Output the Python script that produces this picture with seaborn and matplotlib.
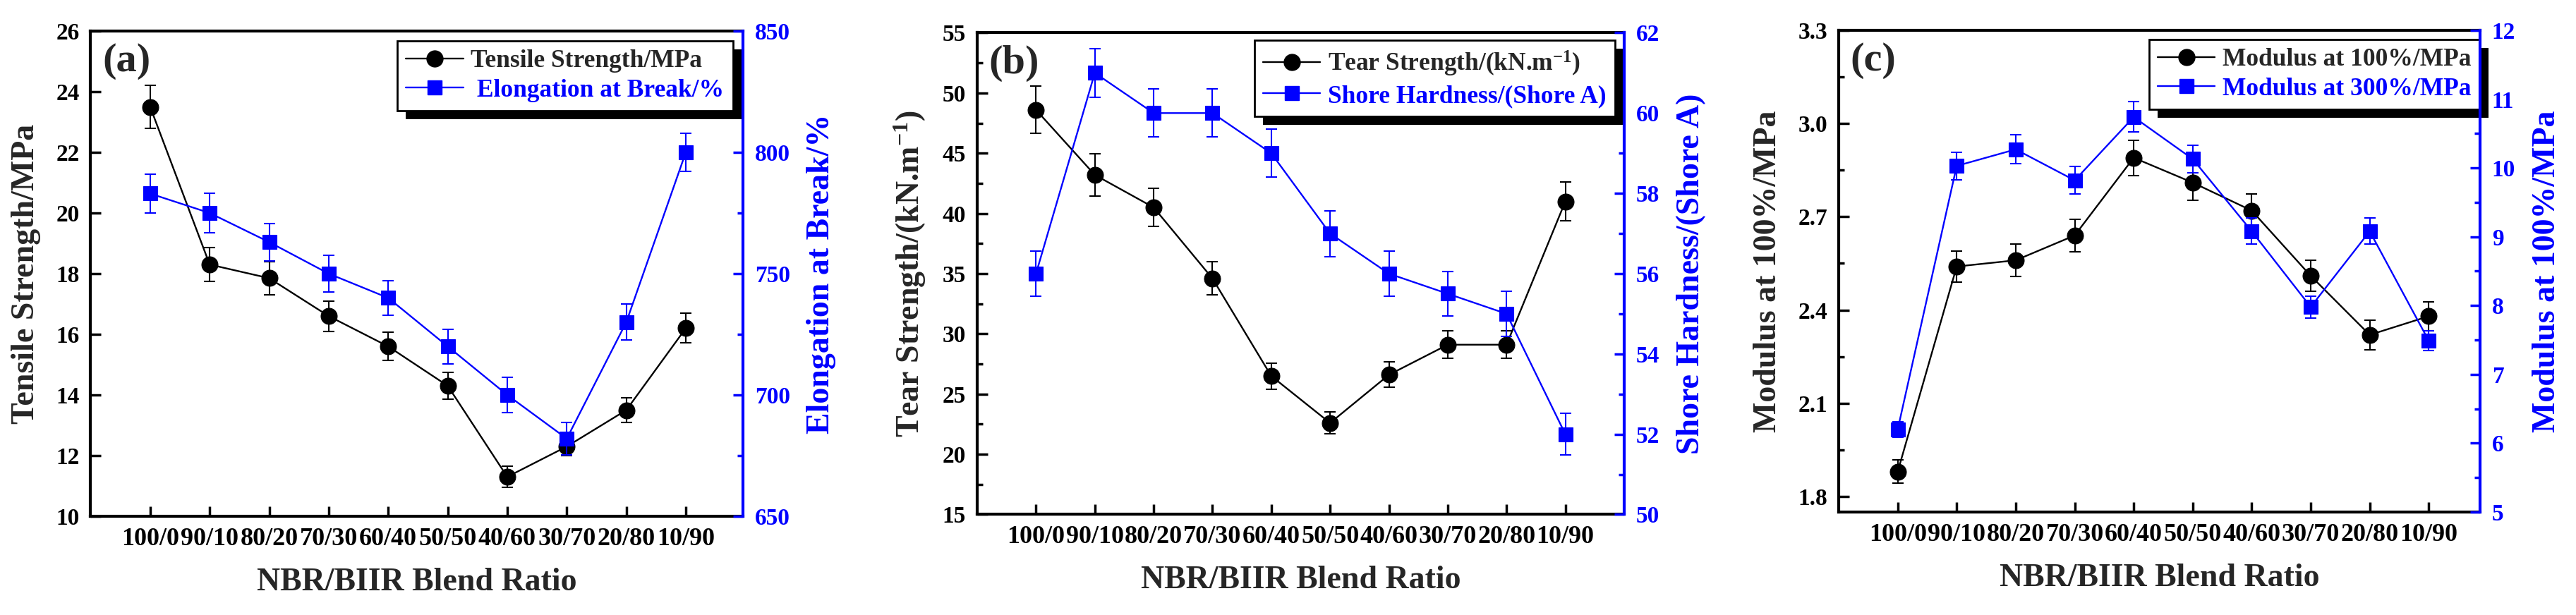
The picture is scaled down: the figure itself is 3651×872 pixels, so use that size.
import numpy as np
import matplotlib
matplotlib.use("Agg")
import matplotlib.pyplot as plt
import matplotlib.ticker as mticker
import matplotlib.transforms as mtransforms
from matplotlib.lines import Line2D
from matplotlib.patches import Rectangle
import seaborn as sns

# data
ratios = ["100/0", "90/10", "80/20", "70/30", "60/40", "50/50", "40/60", "30/70", "20/80", "10/90"]

tensile = [23.5, 18.3, 17.85, 16.6, 15.6, 14.3, 11.3, 12.3, 13.5, 16.2]
tensile_err = [0.7, 0.55, 0.55, 0.5, 0.47, 0.44, 0.34, 0.3, 0.41, 0.49]
elongation = [783, 775, 763, 750, 740, 720, 700, 682, 730, 800]
elongation_err = [8, 8, 7.7, 7.5, 7.2, 7.1, 7.2, 6.7, 7.4, 7.9]

tear = [48.6, 43.2, 40.5, 34.6, 26.5, 22.6, 26.6, 29.1, 29.1, 41.0]
tear_err = [1.95, 1.74, 1.6, 1.37, 1.08, 0.9, 1.05, 1.15, 1.15, 1.63]
shore = [56, 61, 60, 60, 59, 57, 56, 55.5, 55, 52]
shore_err = [0.56, 0.6, 0.6, 0.6, 0.6, 0.57, 0.56, 0.56, 0.56, 0.52]

mod100 = [1.88, 2.54, 2.56, 2.64, 2.89, 2.81, 2.72, 2.51, 2.32, 2.38]
mod100_err = [0.038, 0.05, 0.052, 0.052, 0.057, 0.057, 0.054, 0.05, 0.047, 0.046]
mod300 = [6.2, 10.03, 10.27, 9.82, 10.74, 10.13, 9.08, 7.98, 9.08, 7.49]
mod300_err = [0.11, 0.2, 0.21, 0.2, 0.22, 0.2, 0.19, 0.16, 0.19, 0.14]

sns.set_theme(style="ticks")
plt.rcParams["font.family"] = ["Liberation Serif", "DejaVu Serif"]
plt.rcParams["font.weight"] = "bold"
plt.rcParams["axes.labelweight"] = "bold"
plt.rcParams["mathtext.fontset"] = "custom"
plt.rcParams["mathtext.rm"] = "Liberation Serif:bold"
plt.rcParams["mathtext.default"] = "rm"

BLUE = "#0000ff"
XTICK_FS = 26
YTICK_FS = 24
LABEL_FS = 33
LEG_FS = 25.5

fig = plt.figure(figsize=(36.51, 8.72), dpi=100)

panels = [
    dict(tag="(a)", pos=[0.03519, 0.16055, 0.25322, 0.78899], xlim=(-1, 9.96),
         y1=tensile, e1=tensile_err, y2=elongation, e2=elongation_err,
         lab1="Tensile Strength/MPa", lab2="Elongation at Break/%",
         leg1="Tensile Strength/MPa", leg2=" Elongation at Break/%",
         ylim1=(10, 26), maj1=2, min1=None, ylim2=(650, 850), maj2=50, min2=25,
         fmt1="%d", fmt2="%d", anchor=(1 - 14 / 924, 1 - 13.5 / 688)),
    dict(tag="(b)", pos=[0.37934, 0.16342, 0.25116, 0.78326], xlim=(-1, 10),
         y1=tear, e1=tear_err, y2=shore, e2=shore_err,
         lab1="Tear Strength/(kN.m$^{-1}$)", lab2="Shore Hardness/(Shore A)",
         leg1="Tear Strength/(kN.m$^{-1}$)", leg2="Shore Hardness/(Shore A)",
         ylim1=(15, 55), maj1=5, min1=2.5, ylim2=(50, 62), maj2=2, min2=1,
         fmt1="%d", fmt2="%d", anchor=(1 - 13 / 918, 1 - 11 / 683)),
    dict(tag="(c)", pos=[0.71378, 0.16743, 0.24897, 0.78326], xlim=(-1, 9.87),
         y1=mod100, e1=mod100_err, y2=mod300, e2=mod300_err,
         lab1="Modulus at 100%/MPa", lab2="Modulus at 100%/MPa",
         leg1="Modulus at 100%/MPa", leg2="Modulus at 300%/MPa",
         ylim1=(1.75, 3.3), maj1=0.3, min1=0.15, ylim2=(5, 12), maj2=1, min2=0.5,
         fmt1="%.1f", fmt2="%d", anchor=(1.0, 1 - 12.6 / 683)),
]

xpos = np.arange(len(ratios))
legends = []

for p in panels:
    ax = fig.add_axes(p["pos"])
    ax2 = ax.twinx()

    # black series (left axis)
    ax.errorbar(xpos, p["y1"], yerr=p["e1"], fmt="none", ecolor="black",
                elinewidth=1.5, capsize=6, capthick=1.5, zorder=2)
    sns.lineplot(x=xpos, y=p["y1"], ax=ax, color="black", marker="o",
                 markersize=16.5, markeredgecolor="black", markeredgewidth=0.8,
                 linewidth=1.7, sort=False, zorder=3)

    # blue series (right axis)
    ax2.errorbar(xpos, p["y2"], yerr=p["e2"], fmt="none", ecolor=BLUE,
                 elinewidth=1.5, capsize=6, capthick=1.5, zorder=2)
    sns.lineplot(x=xpos, y=p["y2"], ax=ax2, color=BLUE, marker="s",
                 markersize=14.5, markeredgecolor=BLUE, markeredgewidth=0.8,
                 linewidth=1.7, sort=False, zorder=3)

    ax.set_xlim(*p["xlim"])
    ax.set_ylim(*p["ylim1"])
    ax2.set_ylim(*p["ylim2"])
    ax.set_xticks(xpos)
    ax.set_xticklabels(ratios)
    ax.yaxis.set_major_locator(mticker.MultipleLocator(p["maj1"]))
    ax.yaxis.set_major_formatter(mticker.FormatStrFormatter(p["fmt1"]))
    if p["min1"]:
        ax.yaxis.set_minor_locator(mticker.MultipleLocator(p["min1"]))
    ax2.yaxis.set_major_locator(mticker.MultipleLocator(p["maj2"]))
    ax2.yaxis.set_minor_locator(mticker.MultipleLocator(p["min2"]))
    ax2.yaxis.set_major_formatter(mticker.FormatStrFormatter(p["fmt2"]))
    ax.xaxis.set_minor_locator(mticker.NullLocator())

    for s in ["left", "top", "bottom"]:
        ax.spines[s].set_linewidth(3)
        ax.spines[s].set_color("black")
        ax2.spines[s].set_visible(False)
    ax.spines["right"].set_visible(False)
    ax2.spines["right"].set_linewidth(3)
    ax2.spines["right"].set_color(BLUE)

    ax.tick_params(axis="x", which="major", direction="in", length=10, width=2.5,
                   labelsize=XTICK_FS, pad=11.5, top=False, colors="black")
    ax.tick_params(axis="y", which="major", direction="in", length=11, width=2.5,
                   labelsize=YTICK_FS, pad=11.5, right=False, colors="black")
    ax.tick_params(axis="y", which="minor", direction="in", length=6, width=2.5,
                   right=False, colors="black")
    ax2.tick_params(axis="y", which="major", direction="in", length=10, width=2.5,
                    labelsize=YTICK_FS, pad=12, colors=BLUE)
    ax2.tick_params(axis="y", which="minor", direction="in", length=5.5, width=2.5,
                    colors=BLUE)

    ax.set_xlabel("NBR/BIIR Blend Ratio", fontsize=LABEL_FS, labelpad=17)
    ax.set_ylabel(p["lab1"], fontsize=LABEL_FS, labelpad=15)
    ax2.set_ylabel(p["lab2"], fontsize=LABEL_FS, labelpad=17, color=BLUE)

    ax.text(0.018, 0.975, p["tag"], transform=ax.transAxes, ha="left", va="top",
            fontsize=42, fontweight="bold")

    handles = [
        Line2D([], [], color="black", marker="o", markersize=16.5, linewidth=1.7),
        Line2D([], [], color=BLUE, marker="s", markersize=14.5, linewidth=1.7),
    ]
    leg = ax2.legend(handles, [p["leg1"], p["leg2"]], loc="upper right",
                     bbox_to_anchor=p["anchor"], borderaxespad=0, fontsize=LEG_FS,
                     frameon=True, fancybox=False, framealpha=1, edgecolor="black",
                     handlelength=2.3, handletextpad=0.3, labelspacing=0.25,
                     borderpad=0.35)
    leg.get_frame().set_linewidth(2)
    leg.set_zorder(1.5)
    leg.get_texts()[1].set_color(BLUE)
    legends.append((ax2, leg))

# hard black drop shadow behind each legend box
fig.canvas.draw()
for ax2, leg in legends:
    bb = leg.get_window_extent()
    shadow = Rectangle((bb.x0 + 12, bb.y0 - 12), bb.width, bb.height,
                       transform=mtransforms.IdentityTransform(),
                       facecolor="black", edgecolor="none", zorder=1.4, clip_on=False)
    ax2.add_artist(shadow)

fig.savefig("out.png", dpi=100)
